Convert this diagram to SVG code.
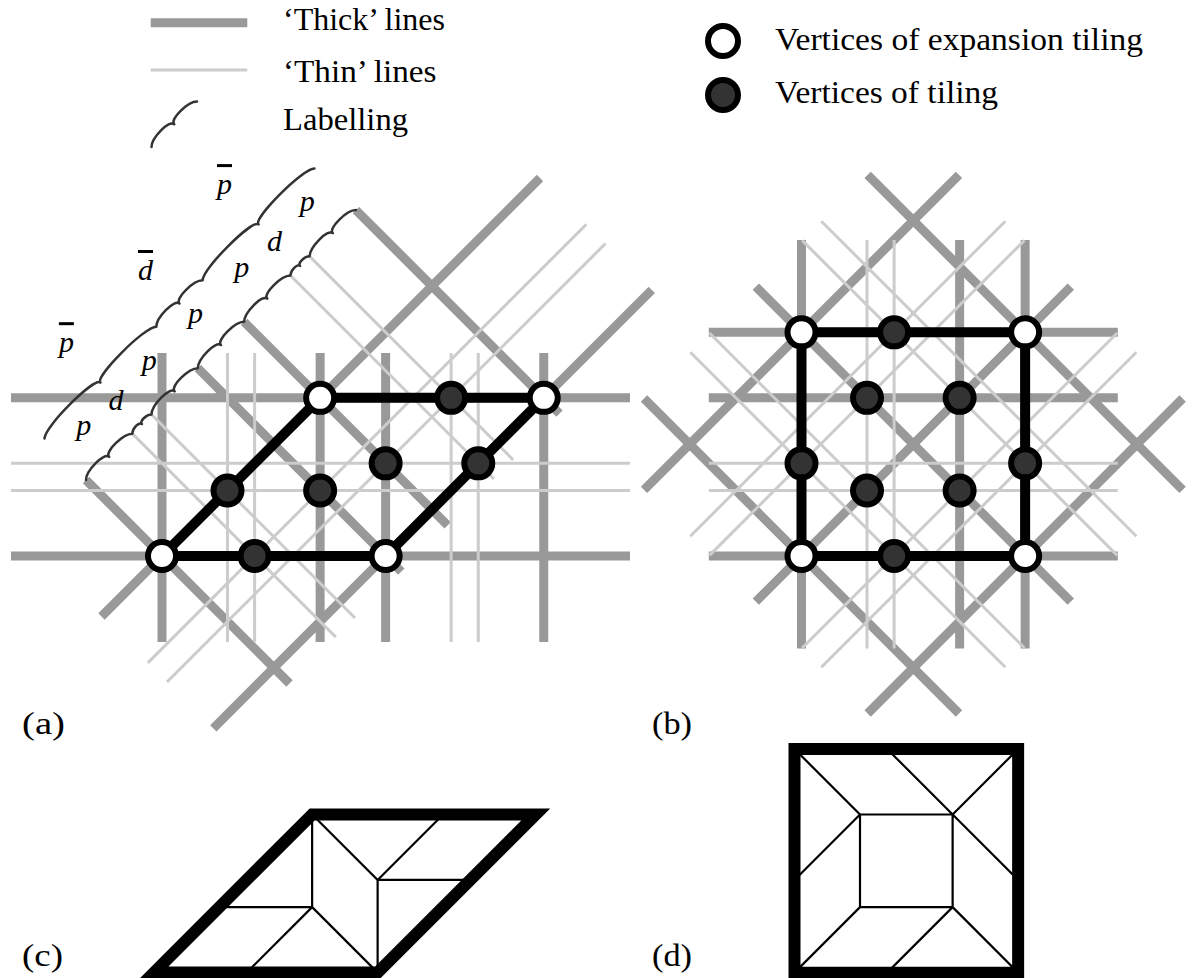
<svg xmlns="http://www.w3.org/2000/svg" width="1192" height="978" viewBox="0 0 1192 978">
<style>
.thick{stroke:#999;stroke-width:9;fill:none}
.thin{stroke:#ccc;stroke-width:3;fill:none}
.edge{stroke:#000;stroke-width:10;fill:none;stroke-linejoin:round}
.vw{fill:#fff;stroke:#000;stroke-width:6}
.vd{fill:#333;stroke:#000;stroke-width:6}
.brace{stroke:#333;stroke-width:2.5;fill:none;stroke-linejoin:round;stroke-linecap:round}
.lab{font-family:"Liberation Serif",serif;font-style:italic;font-size:30px;text-anchor:middle;fill:#000}
.bar{text-decoration:overline}
.txt{font-family:"Liberation Serif",serif;font-size:32px;fill:#000}
.tile{stroke:#000;stroke-width:2.2;fill:none}
.border{stroke:#000;stroke-width:12;fill:none;stroke-linejoin:miter}
</style>
<rect width="1192" height="978" fill="#fff"/>

<g id="legend">
  <line class="thick" x1="150.7" y1="22.7" x2="247.3" y2="22.7"/>
  <line class="thin" x1="150.7" y1="70" x2="247.3" y2="70"/>
  <path class="brace" d="M151.5,147 C151.5,138 169.3,119.3 174.25,124.25 C169.3,119.3 188,101.5 197,101.5"/>
  <text class="txt" x="283" y="29.5" textLength="162" lengthAdjust="spacingAndGlyphs">‘Thick’ lines</text>
  <text class="txt" x="283" y="81.5" textLength="153.5" lengthAdjust="spacingAndGlyphs">‘Thin’ lines</text>
  <text class="txt" x="283" y="130" textLength="125" lengthAdjust="spacingAndGlyphs">Labelling</text>
  <circle class="vw" cx="723" cy="41" r="15"/>
  <circle class="vd" cx="723" cy="95" r="15"/>
  <text class="txt" x="775" y="50" textLength="368" lengthAdjust="spacingAndGlyphs">Vertices of expansion tiling</text>
  <text class="txt" x="775" y="103" textLength="223" lengthAdjust="spacingAndGlyphs">Vertices of tiling</text>
</g>

<g id="panel-a">
  <g id="a-lines">
    <path class="thick" d="M11,397.87H630 M11,556H630 M162,353V642 M320.13,353V642 M385.63,353V642 M543.76,353V642 M101.5,616.5L540,178 M213.32,728.32L651.82,289.82 M86,480L289.5,683.5 M197.82,368.18L401.32,571.68 M244.13,321.87L447.63,525.37 M355.95,210.06L559.45,413.56"/>
    <path class="thin" d="M11,463.37H630 M11,490.5H630 M227.5,353V642 M254.63,353V642 M451.13,353V642 M478.26,353V642 M147.82,662.82L586.32,224.32 M167,682L605.5,243.5 M132.32,433.68L335.82,637.18 M151.5,414.5L355,618 M290.45,275.55L493.95,479.05 M309.63,256.37L513.13,459.87"/>
  </g>
  <g id="a-labelling">
    <path class="brace" d="M86,480 C86,471 104.21,451.89 109.16,456.84 C104.21,451.89 123.32,433.69 132.32,433.69 C132.32,428.69 139.08,421.27 141.91,424.1 C139.08,421.27 146.5,414.5 151.5,414.5 C151.5,405.5 169.71,386.4 174.66,391.35 C169.71,386.4 188.82,368.19 197.82,368.19 C197.82,359.19 216.03,340.08 220.98,345.03 C216.03,340.08 235.13,321.87 244.13,321.87 C244.13,312.87 262.34,293.77 267.29,298.72 C262.34,293.77 281.45,275.56 290.45,275.56 C290.45,270.56 297.21,263.14 300.04,265.97 C297.21,263.14 304.63,256.37 309.63,256.37 C309.63,247.37 327.84,228.27 332.79,233.22 C327.84,228.27 346.95,210.06 355.95,210.06"/>
    <path class="brace" d="M44.5,438.5 C44.5,426.5 94.75,376.94 100.41,382.6 C94.75,376.94 144.32,326.69 156.32,326.69 C156.32,317.69 174.53,298.58 179.48,303.53 C174.53,298.58 193.63,280.37 202.63,280.37 C202.63,268.37 252.88,218.81 258.54,224.47 C252.88,218.81 302.45,168.56 314.45,168.56"/>
    <text class="lab" x="83.7" y="435">p</text>
    <text class="lab" x="116" y="409.5">d</text>
    <text class="lab" x="149.2" y="369.5">p</text>
    <text class="lab" x="195.5" y="323.1">p</text>
    <text class="lab" x="241.8" y="276.8">p</text>
    <text class="lab" x="274.5" y="251">d</text>
    <text class="lab" x="307.3" y="211.3">p</text>
    <text class="lab bar" x="66.4" y="352.2">p</text>
    <text class="lab bar" x="145.5" y="280">d</text>
    <text class="lab bar" x="224.5" y="194.1">p</text>
  </g>
  <path id="a-edges" class="edge" d="M162,556H385.63L543.76,397.87H320.13Z"/>
  <g id="a-vertices">
    <circle class="vd" cx="227.5" cy="490.5" r="14"/>
    <circle class="vd" cx="254.63" cy="556" r="14"/>
    <circle class="vd" cx="451.13" cy="397.87" r="14"/>
    <circle class="vd" cx="478.26" cy="463.37" r="14"/>
    <circle class="vd" cx="320.13" cy="490.5" r="14"/>
    <circle class="vd" cx="385.63" cy="463.37" r="14"/>
    <circle class="vw" cx="162" cy="556" r="14"/>
    <circle class="vw" cx="385.63" cy="556" r="14"/>
    <circle class="vw" cx="320.13" cy="397.87" r="14"/>
    <circle class="vw" cx="543.76" cy="397.87" r="14"/>
  </g>
  <text class="txt" x="22" y="734" font-size="34" textLength="43" lengthAdjust="spacingAndGlyphs">(a)</text>
</g>

<g id="panel-b">
  <g id="b-lines">
    <path class="thick" d="M708.8,332.37H1117.8 M708.8,397.87H1117.8 M708.8,556H1117.8 M801.5,239.9V648.5 M959.63,239.9V648.5 M1025.13,239.9V648.5 M644,489.87L959,174.87 M755.82,601.69L1070.82,286.69 M867.63,713.5L1182.63,398.5 M644,398.5L959,713.5 M755.82,286.69L1070.82,601.69 M867.63,174.87L1182.63,489.87"/>
    <path class="thin" d="M708.8,463.37H1117.8 M708.8,490.5H1117.8 M867,239.9V648.5 M894.13,239.9V648.5 M690.32,536.19L1005.32,221.19 M709.5,555.37L1024.5,240.37 M802.13,648L1117.13,333 M821.32,667.19L1136.32,352.19 M690.32,352.19L1005.32,667.19 M709.5,333L1024.5,648 M802.13,240.37L1117.13,555.37 M821.32,221.19L1136.32,536.19"/>
  </g>
  <path id="b-edges" class="edge" d="M801.5,332.37H1025.13V556H801.5Z"/>
  <g id="b-vertices">
    <circle class="vd" cx="894.13" cy="332.37" r="14"/>
    <circle class="vd" cx="801.5" cy="463.37" r="14"/>
    <circle class="vd" cx="894.13" cy="556" r="14"/>
    <circle class="vd" cx="1025.13" cy="463.37" r="14"/>
    <circle class="vd" cx="867" cy="397.87" r="14"/>
    <circle class="vd" cx="959.63" cy="397.87" r="14"/>
    <circle class="vd" cx="867" cy="490.5" r="14"/>
    <circle class="vd" cx="959.63" cy="490.5" r="14"/>
    <circle class="vw" cx="801.5" cy="332.37" r="14"/>
    <circle class="vw" cx="1025.13" cy="332.37" r="14"/>
    <circle class="vw" cx="801.5" cy="556" r="14"/>
    <circle class="vw" cx="1025.13" cy="556" r="14"/>
  </g>
  <text class="txt" x="652" y="734" font-size="34" textLength="40" lengthAdjust="spacingAndGlyphs">(b)</text>
</g>

<g id="panel-c">
  <path class="tile" d="M312.13,814.47V907.1H219.5 M312.13,907.1L246.63,972.6 M312.13,907.1L377.63,972.6 M312.13,814.47L377.63,879.97V972.6 M377.63,879.97L443.13,814.47 M377.63,879.97H470.26"/>
  <path class="border" d="M154,972.6H377.63L535.76,814.47H312.13Z"/>
  <text class="txt" x="22" y="966" font-size="34" textLength="41" lengthAdjust="spacingAndGlyphs">(c)</text>
</g>

<g id="panel-d">
  <path class="tile" d="M860,814.5H952.63V907.13H860Z M860,814.5L794.5,749 M860,814.5L794.5,880 M952.63,814.5L1018.13,749 M952.63,814.5L887.13,749 M952.63,814.5L1018.13,880 M952.63,907.13L1018.13,972.63 M952.63,907.13L887.13,972.63 M860,907.13L794.5,972.63"/>
  <path class="border" d="M794.5,749H1018.13V972.63H794.5Z"/>
  <text class="txt" x="652" y="966" font-size="34" textLength="40" lengthAdjust="spacingAndGlyphs">(d)</text>
</g>
</svg>
